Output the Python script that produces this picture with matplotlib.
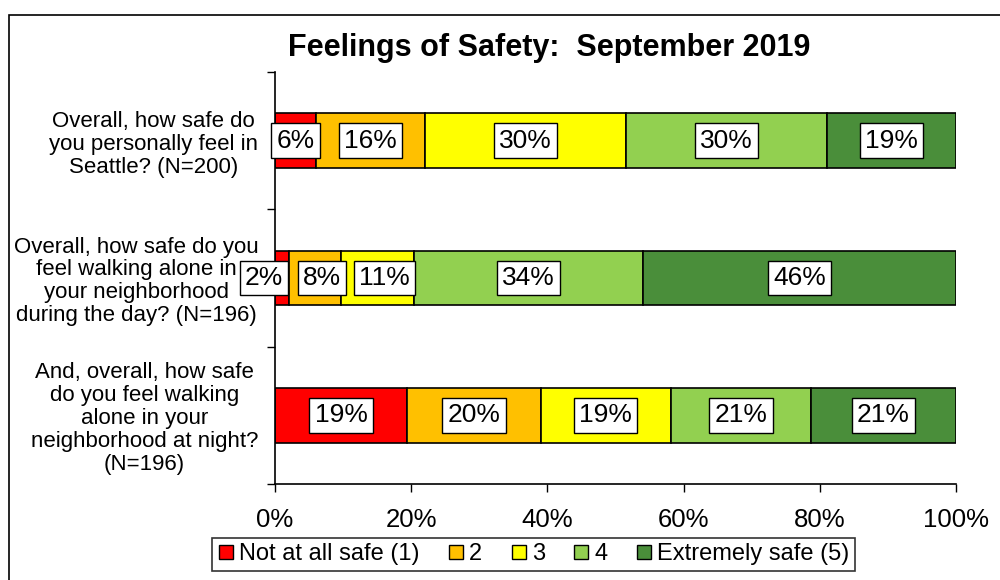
import numpy as np
import matplotlib
matplotlib.use("Agg")
import matplotlib.pyplot as plt
from matplotlib.lines import Line2D
from matplotlib.patches import Rectangle

plt.rcParams['font.family'] = ['Liberation Sans', 'DejaVu Sans']

# survey questions (top to bottom)
questions = [
    "Overall, how safe do\nyou personally feel in\nSeattle? (N=200)",
    "Overall, how safe do you\nfeel walking alone in\nyour neighborhood\nduring the day? (N=196)",
    "And, overall, how safe\ndo you feel walking\nalone in your\nneighborhood at night?\n(N=196)",
]
series_names = ["Not at all safe (1)", "2", "3", "4", "Extremely safe (5)"]
colors = ["#FF0000", "#FFC000", "#FFFF00", "#92D050", "#4A8E3A"]

# percent per response level, one list per question
not_safe = [6.0, 2.1, 19.4]
level2 = [16.0, 7.6, 19.6]
level3 = [29.6, 10.7, 19.1]
level4 = [29.5, 33.6, 20.6]
extremely_safe = [18.9, 46.0, 21.3]
values = [not_safe, level2, level3, level4, extremely_safe]

# label nudges (points) so the small labels of the middle bar don't collide
nudge = {(1, 0): -13, (1, 1): 5, (1, 2): 5}

fig = plt.figure(figsize=(10, 5.8), dpi=100)
ax = fig.add_axes([0.275, 0.1655, 0.681, 0.7104])

ypos = np.arange(len(questions))[::-1]
left = np.zeros(len(questions))
for j, (name, col, vals) in enumerate(zip(series_names, colors, values)):
    vals = np.array(vals)
    ax.barh(ypos, vals, left=left, height=0.4, color=col, edgecolor='black',
            linewidth=1.2, label=name)
    for i, (y, l, v) in enumerate(zip(ypos, left, vals)):
        ax.annotate("%d%%" % round(v), (l + v / 2, y),
                    xytext=(nudge.get((i, j), 0), 0), textcoords='offset points',
                    ha='center', va='center', fontsize=19, annotation_clip=False,
                    bbox=dict(boxstyle='square,pad=0.2', fc='white', ec='black', lw=1))
    left += vals

ax.set_xlim(0, 100)
ax.set_ylim(-0.5, 2.5)
ax.set_xticks(np.arange(0, 101, 20))
ax.set_xticklabels(["%d%%" % t for t in range(0, 101, 20)], fontsize=18.5)
ax.tick_params(axis='x', length=6, width=1, pad=11)

# category boundaries as major ticks, labels as minor ticks
ax.set_yticks([-0.5, 0.5, 1.5, 2.5])
ax.set_yticklabels([])
ax.tick_params(axis='y', which='major', length=6, width=1)
ax.set_yticks(ypos, minor=True)
ax.set_yticklabels(questions, minor=True, fontsize=16, linespacing=1.12)
ax.tick_params(axis='y', which='minor', length=0, pad=12)
for t in ax.get_yticklabels(minor=True):
    t.set_multialignment('center')

for s in ['top', 'right']:
    ax.spines[s].set_visible(False)
for s in ['left', 'bottom']:
    ax.spines[s].set_linewidth(1.2)

fig.text(0.549, 0.918, "Feelings of Safety:  September 2019", ha='center',
         va='center', fontsize=22, fontweight='bold')

handles = [Line2D([0], [0], marker='s', color='none', markerfacecolor=c,
                  markeredgecolor='black', markersize=10) for c in colors]
leg = fig.legend(handles, series_names, loc='center', bbox_to_anchor=(0.5335, 0.044),
                 ncol=5, frameon=True, fancybox=False, edgecolor='black',
                 prop={'size': 17}, handlelength=0.7,
                 handletextpad=0.2, columnspacing=1.2, borderpad=0.25)
leg.get_frame().set_linewidth(1.2)

fig.patches.append(Rectangle((0.009, -0.2), 1.2, 1.2 - 15 / 580,
                             transform=fig.transFigure, fill=False,
                             edgecolor='black', linewidth=1.2))

fig.savefig("out.png", dpi=100)
